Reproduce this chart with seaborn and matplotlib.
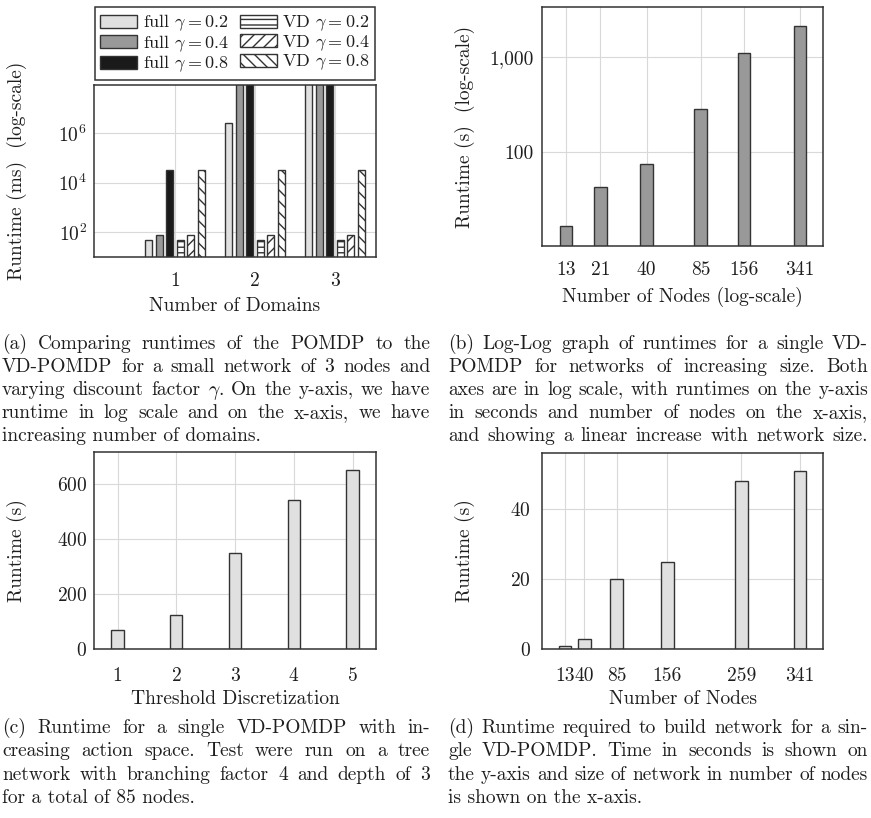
import numpy as np
import pandas as pd
import matplotlib
matplotlib.use("Agg")
import matplotlib.pyplot as plt
import matplotlib.ticker as mticker
import seaborn as sns

# ---- data -------------------------------------------------------------
# (a) runtime (ms) vs number of domains, full POMDP vs VD-POMDP
domains = [1, 2, 3]
full_g02 = [48, 2.5e6, 1e12]
full_g04 = [75, 1e9, 1e12]
full_g08 = [3.3e4, 1e9, 1e12]
vd_g02 = [48, 48, 48]
vd_g04 = [75, 75, 75]
vd_g08 = [3.3e4, 3.3e4, 3.3e4]
series_a = [r"full $\gamma = 0.2$", r"full $\gamma = 0.4$", r"full $\gamma = 0.8$",
            r"VD $\gamma = 0.2$", r"VD $\gamma = 0.4$", r"VD $\gamma = 0.8$"]
yticks_a = [1e2, 1e4, 1e6]
yticklabels_a = [r"$10^{2}$", r"$10^{4}$", r"$10^{6}$"]

# (b) runtime (s) vs number of nodes, log-log
nodes_b = [13, 21, 40, 85, 156, 341]
runtime_b = [16.5, 43, 75, 285, 1120, 2120]
yticks_b = [100, 1000]
yticklabels_b = ["100", "1,000"]

# (c) runtime (s) vs threshold discretization
thresholds = [1, 2, 3, 4, 5]
runtime_c = [70, 125, 350, 540, 650]

# (d) network build time (s) vs number of nodes
nodes_d = [13, 40, 85, 156, 259, 341]
runtime_d = [1, 3, 20, 25, 48, 51]

captions = {
    "a": ["(a) Comparing runtimes of the POMDP to the",
          "VD-POMDP for a small network of 3 nodes and",
          r"varying discount factor $\gamma$. On the y-axis, we have",
          "runtime in log scale and on the x-axis, we have",
          "increasing number of domains."],
    "b": ["(b) Log-Log graph of runtimes for a single VD-",
          "POMDP for networks of increasing size. Both",
          "axes are in log scale, with runtimes on the y-axis",
          "in seconds and number of nodes on the x-axis,",
          "and showing a linear increase with network size."],
    "c": ["(c) Runtime for a single VD-POMDP with in-",
          "creasing action space. Test were run on a tree",
          "network with branching factor 4 and depth of 3",
          "for a total of 85 nodes."],
    "d": ["(d) Runtime required to build network for a sin-",
          "gle VD-POMDP. Time in seconds is shown on",
          "the y-axis and size of network in number of nodes",
          "is shown on the x-axis."],
}

# ---- style ------------------------------------------------------------
sns.set_style("whitegrid")
FS = 14
TXT = "#1e1e1e"
plt.rcParams.update({
    "font.family": ["cmr10", "DejaVu Serif"],
    "mathtext.fontset": "cm",
    "axes.formatter.use_mathtext": True,
    "font.size": FS,
    "text.color": TXT,
    "axes.labelcolor": TXT,
    "xtick.color": "#777777",
    "ytick.color": "#777777",
    "xtick.labelcolor": TXT,
    "ytick.labelcolor": TXT,
    "axes.edgecolor": "#333333",
    "axes.linewidth": 1.1,
    "grid.color": "#d9d9d9",
    "grid.linewidth": 0.8,
    "hatch.linewidth": 1.0,
})

LIGHT, MID, DARK, EDGE = "#e0e0e0", "#999999", "#1a1a1a", "#333333"

W, H = 871, 818
fig = plt.figure(figsize=(W / 100, H / 100), dpi=100)


def px_axes(x0, y0, x1, y1):
    return fig.add_axes([x0 / W, 1 - y1 / H, (x1 - x0) / W, (y1 - y0) / H])


def style_axes(ax, ylab, xlab, ylab_x, xlab_y, ypad, xpad=6):
    ax.set_ylabel(ylab, fontsize=FS)
    ax.set_xlabel(xlab, fontsize=FS)
    ax.yaxis.label.set_verticalalignment("center")
    ax.xaxis.label.set_verticalalignment("center")
    ax.yaxis.set_label_coords(ylab_x, 0.5)
    ax.xaxis.set_label_coords(0.5, xlab_y)
    ax.tick_params(axis="y", direction="in", length=4, width=0.8, pad=ypad, labelsize=FS)
    ax.tick_params(axis="x", direction="out", length=5, width=0.8, pad=xpad, labelsize=FS)
    ax.grid(True, which="major")
    ax.set_axisbelow(True)
    for s in ax.spines.values():
        s.set_visible(True)
        s.set_color(EDGE)
        s.set_linewidth(1.1)


# ---- (a) --------------------------------------------------------------
ax_a = px_axes(94, 85, 376, 257)
df_a = pd.DataFrame({
    "domains": np.tile(domains, 6),
    "series": np.repeat(series_a, len(domains)),
    "runtime": np.concatenate([full_g02, full_g04, full_g08, vd_g02, vd_g04, vd_g08]),
})
pal_a = dict(zip(series_a, [LIGHT, MID, DARK, "white", "white", "white"]))
sns.barplot(data=df_a, x="domains", y="runtime", hue="series", hue_order=series_a,
            palette=pal_a, saturation=1, native_scale=True,
            width=0.79, gap=0.33, edgecolor=EDGE, linewidth=1.0,
            legend=False, ax=ax_a)
ax_a.set_yscale("log")
hatches = ["", "", "", "---", "///", "\\\\\\"]
for cont, h in zip(ax_a.containers, hatches):
    for p in cont.patches:
        p.set_hatch(h)
        p.set_edgecolor(EDGE)
ax_a.set_xlim(-0.01, 3.51)
ax_a.set_ylim(10, 8.5e7)
ax_a.set_xticks(domains)
ax_a.set_xticklabels([str(d) for d in domains])
ax_a.yaxis.set_major_locator(mticker.FixedLocator(yticks_a))
ax_a.yaxis.set_major_formatter(mticker.FixedFormatter(yticklabels_a))
ax_a.yaxis.set_minor_locator(mticker.NullLocator())
style_axes(ax_a, "Runtime (ms)  (log-scale)", "Number of Domains", -0.273, -0.285, 5)
ax_a.tick_params(axis="x", length=0, pad=11)
leg = ax_a.legend(ax_a.containers, series_a, loc="lower center",
                  bbox_to_anchor=(0.5, 1.03), ncol=2,
                  borderaxespad=0, fontsize=13, handlelength=2.05, handleheight=0.72,
                  handletextpad=0.3, labelspacing=0.0, borderpad=0.3,
                  columnspacing=0.6, fancybox=False, framealpha=1)
leg.get_frame().set_edgecolor(EDGE)
leg.get_frame().set_linewidth(1.1)

# ---- (b) --------------------------------------------------------------
ax_b = px_axes(542, 7, 823, 246)
sns.barplot(x=nodes_b, y=runtime_b, native_scale=True, log_scale=(True, False),
            color=MID, saturation=1, width=0.37, edgecolor=EDGE, linewidth=1.0, ax=ax_b)
ax_b.set_yscale("log")
ax_b.set_xlim(9.3, 470)
ax_b.set_ylim(10.2, 3400)
ax_b.xaxis.set_major_locator(mticker.FixedLocator(nodes_b))
ax_b.xaxis.set_major_formatter(mticker.FixedFormatter([str(n) for n in nodes_b]))
ax_b.xaxis.set_minor_locator(mticker.NullLocator())
ax_b.yaxis.set_major_locator(mticker.FixedLocator(yticks_b))
ax_b.yaxis.set_major_formatter(mticker.FixedFormatter(yticklabels_b))
ax_b.yaxis.set_minor_locator(mticker.LogLocator(base=10, subs=np.arange(2, 10)))
ax_b.yaxis.set_minor_formatter(mticker.NullFormatter())
style_axes(ax_b, "Runtime (s)  (log-scale)", "Number of Nodes (log-scale)", -0.274, -0.213, 6)
ax_b.tick_params(axis="y", which="minor", direction="in", length=3, width=0.6)

# ---- (c) --------------------------------------------------------------
ax_c = px_axes(94, 452, 376, 649)
sns.barplot(x=thresholds, y=runtime_c, native_scale=True, color=LIGHT, saturation=1,
            width=0.21, edgecolor=EDGE, linewidth=1.0, ax=ax_c)
ax_c.set_xlim(0.6, 5.4)
ax_c.set_ylim(0, 716)
ax_c.set_xticks(thresholds)
ax_c.set_yticks([0, 200, 400, 600])
style_axes(ax_c, "Runtime (s)", "Threshold Discretization", -0.273, -0.255, 5, xpad=8)

# ---- (d) --------------------------------------------------------------
ax_d = px_axes(542, 453, 823, 649)
sns.barplot(x=nodes_d, y=runtime_d, native_scale=True, color=LIGHT, saturation=1,
            width=0.655, edgecolor=EDGE, linewidth=1.0, ax=ax_d)
ax_d.set_xlim(-19, 373)
ax_d.set_ylim(0, 56)
ax_d.set_xticks(nodes_d)
ax_d.set_xticklabels([str(n) for n in nodes_d])
ax_d.set_yticks([0, 20, 40])
style_axes(ax_d, "Runtime (s)", "Number of Nodes", -0.274, -0.256, 8, xpad=8)


# ---- captions (justified) --------------------------------------------
renderer = fig.canvas.get_renderer()


def caption(lines, x0, x1, y0, step, justify_last=False):
    for i, line in enumerate(lines):
        y = 1 - (y0 + i * step) / H
        last = i == len(lines) - 1
        if last and not justify_last:
            fig.text(x0 / W, y, line, fontsize=FS, va="baseline", ha="left")
            continue
        words = line.split(" ")
        texts = [fig.text(0, y, w, fontsize=FS, va="baseline", ha="left") for w in words]
        widths = [t.get_window_extent(renderer).width for t in texts]
        space = (x1 - x0 - sum(widths)) / (len(words) - 1)
        x = x0
        for t, wd in zip(texts, widths):
            t.set_x(x / W)
            x += wd + space


caption(captions["a"], 2, 430, 349, 23)
caption(captions["b"], 448, 868, 349, 23, justify_last=True)
caption(captions["c"], 2, 430, 733, 23.4)
caption(captions["d"], 448, 868, 733, 23.4)

fig.savefig("out.png", dpi=100)
